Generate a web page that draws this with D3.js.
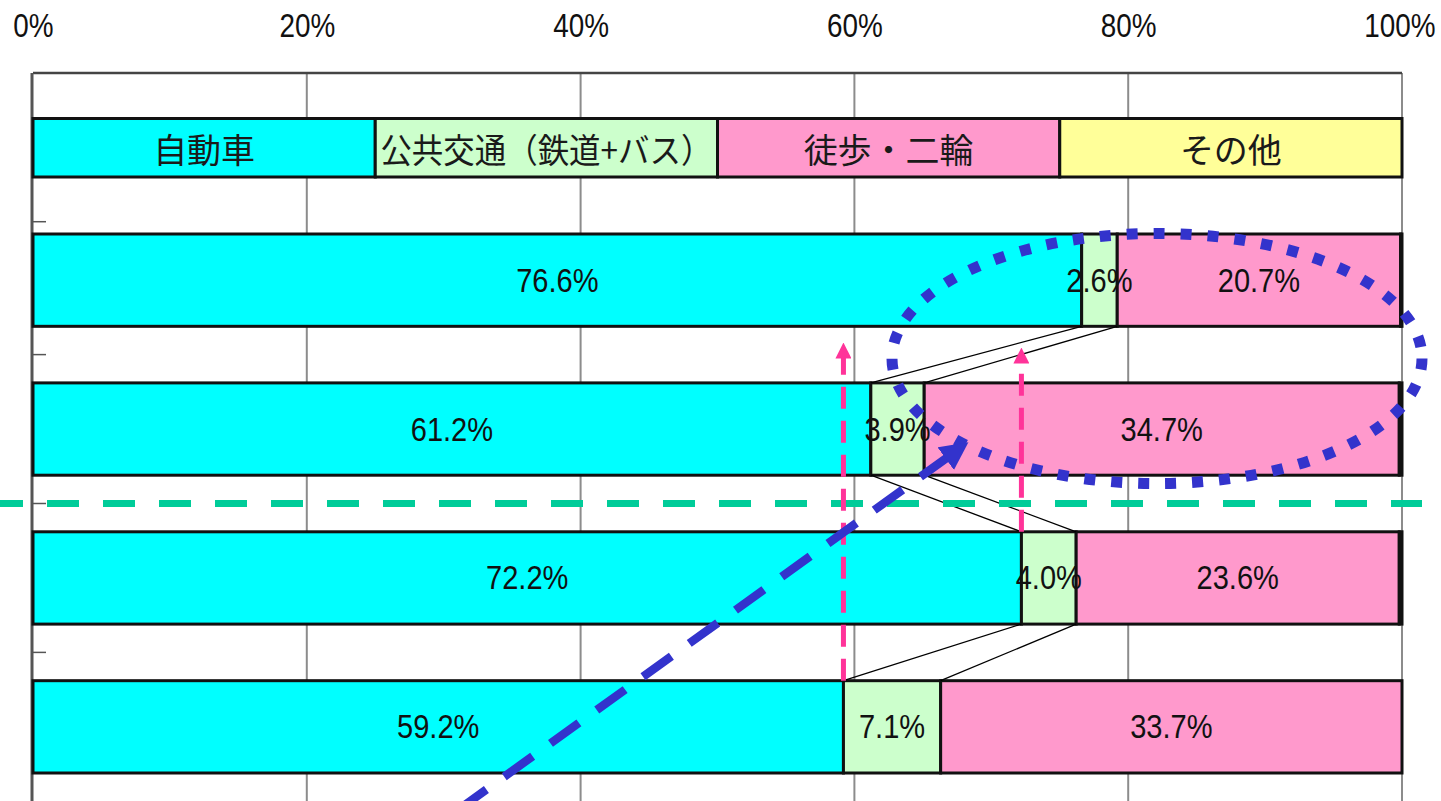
<!DOCTYPE html>
<html>
<head>
<meta charset="utf-8">
<script src="https://cdn.jsdelivr.net/npm/d3@7"></script>
<style>
  html, body { margin: 0; padding: 0; background: #fff; overflow: hidden; }
  svg { display: block; }
  .num { font-family: "Liberation Sans", Arial, sans-serif; fill: #111; }
  .jp { font-family: "Noto Sans CJK JP", sans-serif; fill: #1a1a1a; }
</style>
</head>
<body>
<svg id="chart" width="1441" height="801"></svg>
<script>
// Survey rows (top to bottom) and travel-mode shares, in percent
const surveys = ["survey1", "survey2", "survey3", "survey4"];
const modeNames = ["自動車", "公共交通（鉄道+バス）", "徒歩・二輪", "その他"];
const carShare = [76.6, 61.2, 72.2, 59.2];
const transitShare = [2.6, 3.9, 4.0, 7.1];
const walkShare = [20.7, 34.7, 23.6, 33.7];
const otherShare = [0.1, 0.2, 0.2, 0.0];
const legendShare = [25, 25, 25, 25];
const tickValues = [0, 20, 40, 60, 80, 100];
const modeColors = ["#00FFFF", "#CCFFCC", "#FF99CC", "#FFFF99"];

const svg = d3.select("#chart");
const W = 1441, H = 801;

// Narrow the numeric glyphs horizontally to a condensed look
function condense(sel, factor) {
  sel.each(function() {
    const w = this.getComputedTextLength();
    d3.select(this).attr("textLength", w * factor).attr("lengthAdjust", "spacingAndGlyphs");
  });
}

const plotTop = 73, plotBottom = H;
const x = d3.scaleLinear().domain([0, 100]).range([33, 1402]);
const y = d3.scaleBand().domain(surveys).range([234, 773]).paddingInner(0.38).paddingOuter(0);
const bw = y.bandwidth();

// Rows of stacked segments
const rows = surveys.map((s, i) => ({
  key: s,
  values: [carShare[i], transitShare[i], walkShare[i], otherShare[i]]
}));
const stack = d3.stack().keys([0, 1, 2, 3]).value((d, k) => d.values[k]);
const series = stack(rows);

// Top percent axis labels, squeezed horizontally; the last one stays inside the right edge
const tickSqueeze = 0.82;
const axisTop = d3.axisTop(x).tickValues(tickValues).tickFormat(d => d + "%").tickSize(0).tickPadding(0);
const ax = svg.append("g").attr("transform", "translate(0,37)").call(axisTop);
ax.select(".domain").remove();
ax.attr("font-family", null).attr("font-size", null);
ax.selectAll("text").attr("class", "num").attr("font-size", 34).attr("fill", "#222")
  .attr("text-anchor", "middle").attr("transform", `scale(${tickSqueeze},1)`);
ax.selectAll(".tick").filter(d => d === 100).select("text")
  .attr("text-anchor", "end").attr("x", (W - 6 - x(100)) / tickSqueeze);

// Vertical gridlines and frame
const grid = svg.append("g");
grid.selectAll("line.g").data(tickValues.slice(1)).join("line")
  .attr("x1", d => x(d)).attr("x2", d => x(d))
  .attr("y1", plotTop).attr("y2", plotBottom)
  .attr("stroke", "#8c8c8c").attr("stroke-width", 2);
grid.append("line")
  .attr("x1", x(0)).attr("x2", x(100)).attr("y1", plotTop).attr("y2", plotTop)
  .attr("stroke", "#444").attr("stroke-width", 2.5);
grid.append("line")
  .attr("x1", x(0) - 1).attr("x2", x(0) - 1).attr("y1", plotTop).attr("y2", plotBottom)
  .attr("stroke", "#555").attr("stroke-width", 3);

// Small category ticks on the left axis
const step = y.step();
grid.selectAll("line.t").data(surveys).join("line")
  .attr("x1", x(0)).attr("x2", x(0) + 13)
  .attr("y1", (d, i) => y(d) - (step - bw) / 2 + (i === 0 ? 16 : 0))
  .attr("y2", (d, i) => y(d) - (step - bw) / 2 + (i === 0 ? 16 : 0))
  .attr("stroke", "#555").attr("stroke-width", 1.5);

// Legend strip: equal quarters labelled with each mode
const legendTop = 118.5, legendH = 58.5;
const legendStack = d3.cumsum(legendShare);
const legend = svg.append("g");
legend.selectAll("rect").data(modeNames).join("rect")
  .attr("x", (d, i) => x(legendStack[i] - legendShare[i]))
  .attr("width", (d, i) => x(legendStack[i]) - x(legendStack[i] - legendShare[i]))
  .attr("y", legendTop).attr("height", legendH)
  .attr("fill", (d, i) => modeColors[i])
  .attr("stroke", "#111").attr("stroke-width", 3);
legend.selectAll("text").data(modeNames).join("text")
  .attr("class", "jp")
  .attr("x", (d, i) => x(legendStack[i] - legendShare[i] / 2))
  .attr("y", legendTop + legendH / 2 + 1)
  .attr("text-anchor", "middle").attr("dominant-baseline", "central")
  .attr("font-size", 34)
  .each(function(d) {
    if (d.length > 6) d3.select(this).attr("textLength", 332).attr("lengthAdjust", "spacingAndGlyphs");
  })
  .text(d => d);

// Stacked bars
const barG = svg.append("g");
series.forEach((ser, k) => {
  barG.selectAll(null).data(ser).join("rect")
    .attr("x", d => x(d[0]))
    .attr("width", d => Math.max(0, x(d[1]) - x(d[0])))
    .attr("y", d => y(d.data.key)).attr("height", bw)
    .attr("fill", modeColors[k])
    .attr("stroke", "#111").attr("stroke-width", 3)
    .attr("display", d => (d[1] - d[0]) > 0 ? null : "none");
});

// Series lines linking segment boundaries of consecutive rows
const linkG = svg.append("g");
[0, 1].forEach(k => {
  for (let i = 0; i < surveys.length - 1; i++) {
    linkG.append("line")
      .attr("x1", x(series[k][i][1])).attr("y1", y(surveys[i]) + bw)
      .attr("x2", x(series[k][i + 1][1])).attr("y2", y(surveys[i + 1]))
      .attr("stroke", "#000").attr("stroke-width", 1.3);
  }
});

// Value labels centred on each segment
const labelG = svg.append("g");
series.forEach((ser, k) => {
  labelG.selectAll(null).data(ser.filter(d => d[1] - d[0] >= 1)).join("text")
    .attr("class", "num")
    .attr("x", d => x((d[0] + d[1]) / 2))
    .attr("y", d => y(d.data.key) + bw / 2)
    .attr("text-anchor", "middle").attr("dominant-baseline", "central")
    .attr("font-size", 33)
    .text(d => (d[1] - d[0]).toFixed(1) + "%")
    .call(condense, 0.88);
});

// Annotations
const defs = svg.append("defs");
defs.append("marker").attr("id", "pinkHead")
  .attr("viewBox", "0 0 10 10").attr("refX", 2).attr("refY", 5)
  .attr("markerUnits", "userSpaceOnUse").attr("markerWidth", 16).attr("markerHeight", 16)
  .attr("orient", "auto")
  .append("path").attr("d", "M0,0 L10,5 L0,10 Z").attr("fill", "#FF3399");
defs.append("marker").attr("id", "blueHead")
  .attr("viewBox", "0 0 10 10").attr("refX", 1).attr("refY", 5)
  .attr("markerUnits", "userSpaceOnUse").attr("markerWidth", 28).attr("markerHeight", 28)
  .attr("orient", "auto")
  .append("path").attr("d", "M0,0 L10,5 L0,10 Z").attr("fill", "#3333CC");

const ann = svg.append("g");

// Dashed green divider between the two survey pairs
const divY = (y(surveys[1]) + bw + y(surveys[2])) / 2;
ann.append("line")
  .attr("x1", 0).attr("x2", 1422).attr("y1", divY).attr("y2", divY)
  .attr("stroke", "#00CC99").attr("stroke-width", 7)
  .attr("stroke-dasharray", "32 24").attr("stroke-dashoffset", 9);

// Pink dashed arrows rising from the car-share edge of the lower rows
const pinkArrows = [
  { row: 3, tipY: y(surveys[0]) + bw + 16 },
  { row: 2, tipY: y(surveys[0]) + bw + 21 }
];
pinkArrows.forEach(a => {
  const px = x(carShare[a.row]);
  ann.append("line")
    .attr("x1", px).attr("x2", px)
    .attr("y1", y(surveys[a.row])).attr("y2", a.tipY + 13)
    .attr("stroke", "#FF3399").attr("stroke-width", 5)
    .attr("stroke-dasharray", "22 12")
    .attr("marker-end", "url(#pinkHead)");
});

// Dotted ellipse around the walking / two-wheeler shares of the upper rows
ann.append("ellipse")
  .attr("cx", 1157).attr("cy", 358.5).attr("rx", 265).attr("ry", 125)
  .attr("fill", "none").attr("stroke", "#3333CC").attr("stroke-width", 11)
  .attr("stroke-dasharray", "11 16");

// Blue dashed arrow pointing at the ellipse
ann.append("line")
  .attr("x1", 458).attr("y1", 810).attr("x2", 948).attr("y2", 457)
  .attr("stroke", "#3333CC").attr("stroke-width", 8.5)
  .attr("stroke-dasharray", "35 22")
  .attr("marker-end", "url(#blueHead)");
</script>
</body>
</html>
